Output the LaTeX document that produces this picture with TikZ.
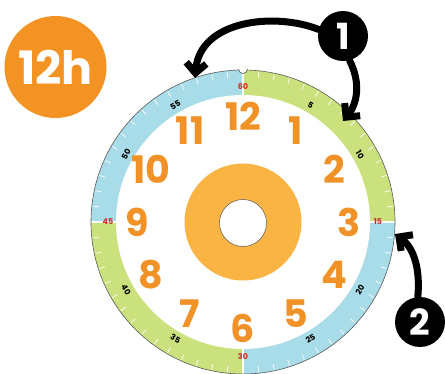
\documentclass[tikz,border=0pt]{standalone}
\usepackage{fontspec}
\setmainfont{Poppins}
\definecolor{clockblue}{RGB}{168,220,232}
\definecolor{clockgreen}{RGB}{203,225,125}
\definecolor{numorange}{RGB}{240,146,40}
\definecolor{ringorange}{RGB}{249,180,68}
\definecolor{badgeorange}{RGB}{243,147,36}
\definecolor{minred}{RGB}{205,45,45}
\definecolor{rimgray}{RGB}{90,90,90}
\usetikzlibrary{arrows.meta}

\begin{document}
\begin{tikzpicture}[x=1pt, y=1pt,
		>={Straight Barb[length=10pt,width=20pt]},   %Pfeilspitzen
		hournum/.style={text=numorange, font=\fontsize{38}{38}\selectfont\bfseries, inner sep=0pt},
		minnum/.style={font=\fontsize{8}{8}\selectfont\bfseries, inner sep=0pt},
		badge/.style={circle, fill=black, text=white, minimum size=50pt, inner sep=0pt, font=\fontsize{36}{36}\selectfont\bfseries},
		pointer/.style={line width=7pt, line cap=round, ->}]
		\useasboundingbox (0,0) rectangle (445,373);
		% Badge 12h
		\node[circle, fill=badgeorange, minimum size=102pt, inner sep=0pt, text=white, font=\fontsize{46}{46}\selectfont\bfseries] (h12) at (55.5,306) {12h};
		% Zifferblatt
		\begin{scope}[shift={(243,151)}]
			\fill[clockgreen] (0,0) -- (90:152) arc[start angle=90, end angle=0, radius=152] -- cycle;
			\fill[clockblue] (0,0) -- (0:152) arc[start angle=0, end angle=-90, radius=152] -- cycle;
			\fill[clockgreen] (0,0) -- (-90:152) arc[start angle=-90, end angle=-180, radius=152] -- cycle;
			\fill[clockblue] (0,0) -- (180:152) arc[start angle=180, end angle=90, radius=152] -- cycle;
			\fill[white] (0,0) circle (127);
			\foreach \a in {0,90,180,270} \draw[white, line width=1.2pt] (\a:127) -- (\a:152);
			% Minutenstriche
			\foreach \m in {0,...,59} \draw[white, line width=0.7pt] (90-6*\m:145) -- (90-6*\m:151);
			\draw[rimgray, line width=0.6pt] (0,0) circle (152);
			% Kerbe oben
			\fill[white] (0,153) circle (4.5);
			\draw[rimgray, line width=0.6pt] (-4.5,153) arc[start angle=180, end angle=360, radius=4.5];
			% Minuten beschriften
			\foreach \m in {5,10} \node[minnum, rotate=-6*\m] (m\m) at (90-6*\m:135) {\m};
			\foreach \m in {20,25,35,40} \node[minnum, rotate=180-6*\m] (m\m) at (90-6*\m:135) {\m};
			\foreach \m in {50,55} \node[minnum, rotate=360-6*\m] (m\m) at (90-6*\m:135) {\m};
			\foreach \m in {15,30,45,60} \node[minnum, text=minred] (m\m) at (90-6*\m:135) {\m};
			% Stunden
			\foreach \h in {1,...,12} \node[hournum] (hour\h) at (90-30*\h:106) {\h};
			% Mittelring
			\fill[ringorange, even odd rule] (0,0) circle (58.5) (0,-1) circle (23.5);
			\draw[rimgray, line width=0.5pt] (0,-1) circle (23.5);
		\end{scope}
		% Nummern und Pfeile
		\node[badge] (one) at (343,337) {1};
		\node[badge] (two) at (420,51) {2};
		\coordinate (tipA) at (195,295);
		\coordinate (tipB) at (343,252);
		\coordinate (tipC) at (395,139);
		\draw[pointer] (one.165) .. controls (275,361) and (200,353) .. (tipA);
		\draw[pointer] (one.-75) .. controls (362,288) and (356,268) .. (tipB);
		\draw[pointer] (two.95) .. controls (421,111) and (410,128) .. (tipC);
	\end{tikzpicture}
\end{document}
